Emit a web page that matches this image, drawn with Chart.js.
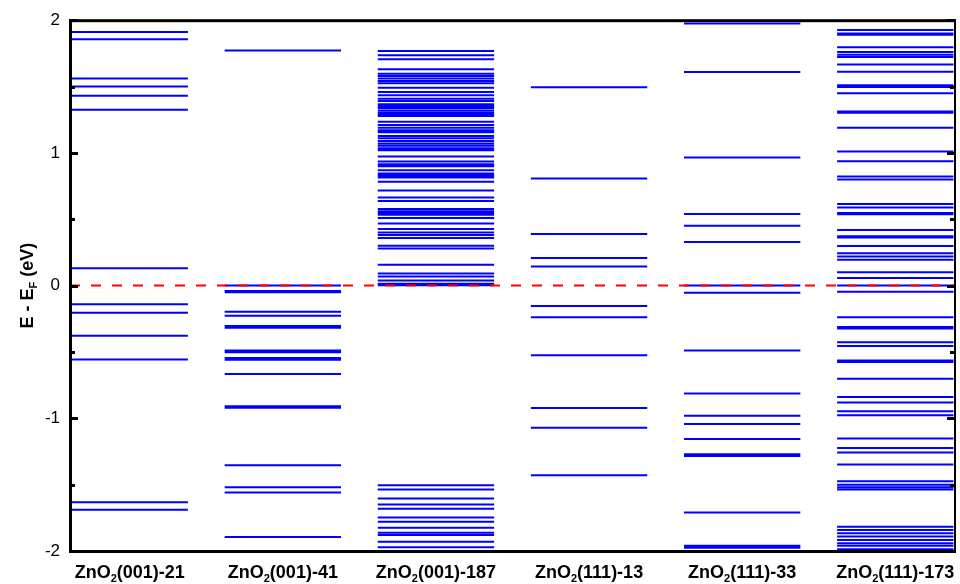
<!DOCTYPE html>
<html>
<head>
<meta charset="utf-8">
<script src="https://cdn.jsdelivr.net/npm/chart.js@4.4.1/dist/chart.umd.min.js"></script>
<style>
  html, body { margin: 0; padding: 0; background: #fff; }
  canvas { display: block; }
</style>
</head>
<body>
<canvas id="chart" width="960" height="584"></canvas>
<script>
// Structure names; "_2" marks a subscript digit
const categories = ['ZnO_2(001)-21', 'ZnO_2(001)-41', 'ZnO_2(001)-187', 'ZnO_2(111)-13', 'ZnO_2(111)-33', 'ZnO_2(111)-173'];

// Energy levels relative to the Fermi level (eV)
const levels001_21 = [1.912, 1.857, 1.561, 1.501, 1.431, 1.326, 0.130, -0.140, -0.205, -0.378, -0.556, -1.632, -1.689];

const levels001_41 = [1.772, 0.000, -0.040, -0.050, -0.198, -0.228, -0.305, -0.318, -0.490, -0.502, -0.545, -0.558,
  -0.667, -0.910, -0.920, -1.353, -1.519, -1.559, -1.895];

const levels001_187 = [1.767, 1.735, 1.705, 1.630, 1.596, 1.579, 1.560, 1.541, 1.524, 1.491, 1.459, 1.434, 1.408, 1.391,
  1.366, 1.351, 1.338, 1.320, 1.302, 1.290, 1.278, 1.235, 1.210, 1.190, 1.170, 1.155, 1.128, 1.110, 1.090, 1.070,
  1.053, 1.035, 1.020, 0.972, 0.935, 0.915, 0.900, 0.870, 0.844, 0.830, 0.815, 0.782, 0.717, 0.664, 0.637, 0.577,
  0.560, 0.545, 0.534, 0.509, 0.468, 0.426, 0.400, 0.381, 0.359, 0.300, 0.280, 0.158, 0.092, 0.068, 0.038, 0.013,
  0.002, -1.504, -1.536, -1.604, -1.649, -1.682, -1.747, -1.780, -1.825, -1.862, -1.880, -1.930, -1.972];

const levels111_13 = [1.494, 0.807, 0.388, 0.208, 0.144, -0.153, -0.239, -0.525, -0.922, -1.071, -1.429];

const levels111_33 = [1.975, 1.609, 0.965, 0.539, 0.451, 0.329, 0.000, -0.053, -0.489, -0.814, -0.980, -1.043,
  -1.156, -1.270, -1.285, -1.709, -1.960, -1.975];

const levels111_173 = [1.927, 1.900, 1.890, 1.797, 1.760, 1.740, 1.722, 1.667, 1.611, 1.510, 1.497, 1.449, 1.312,
  1.302, 1.190, 1.010, 0.937, 0.822, 0.800, 0.614, 0.589, 0.548, 0.538, 0.419, 0.372, 0.362, 0.298, 0.243, 0.220,
  0.195, 0.100, 0.058, 0.000, -0.047, -0.238, -0.312, -0.324, -0.426, -0.456, -0.564, -0.575, -0.702, -0.840, -0.880,
  -0.947, -0.977, -1.153, -1.223, -1.258, -1.348, -1.474, -1.500, -1.520, -1.536, -1.817, -1.842, -1.867, -1.890,
  -1.917, -1.942, -1.960, -1.987];

const allLevels = [levels001_21, levels001_41, levels001_187, levels111_13, levels111_33, levels111_173];

// Y axis ticks
const yTicks = [-2, -1, 0, 1, 2];
const yMinorTicks = [-1.5, -0.5, 0.5, 1.5];
const fermiLevel = 0;

const FONT = "'Liberation Sans', Arial, Helvetica, sans-serif";
const X_MIN = -0.39, X_MAX = 5.39, HALF = 0.38;

// One dataset per structure: each level is a short horizontal segment, separated by gaps
const levelSets = allLevels.map((lv, i) => ({
  label: categories[i],
  data: lv.flatMap(e => [{ x: i - HALF, y: e }, { x: i + HALF, y: e }, { x: i, y: null }]),
  showLine: true,
  spanGaps: false,
  borderColor: '#0000FF',
  borderWidth: 2,
  pointRadius: 0,
  order: 2
}));

const fermiSet = {
  label: 'EF',
  data: [{ x: X_MIN, y: fermiLevel }, { x: X_MAX, y: fermiLevel }],
  showLine: true,
  borderColor: '#FF0000',
  borderWidth: 2,
  borderDash: [10, 11],
  pointRadius: 0,
  order: 1
};

// Draws text where "_c" renders c as a subscript
function drawRich(ctx, text, x, y, size, align) {
  const parts = [];
  for (let i = 0; i < text.length; i++) {
    if (text[i] === '_' && i + 1 < text.length) { parts.push({ t: text[i + 1], sub: true }); i++; }
    else {
      if (parts.length && !parts[parts.length - 1].sub) parts[parts.length - 1].t += text[i];
      else parts.push({ t: text[i], sub: false });
    }
  }
  const big = 'bold ' + size + 'px ' + FONT;
  const small = 'bold ' + Math.round(size * 0.6) + 'px ' + FONT;
  let w = 0;
  parts.forEach(p => { ctx.font = p.sub ? small : big; p.w = ctx.measureText(p.t).width; w += p.w; });
  let cx = align === 'center' ? x - w / 2 : x;
  ctx.textAlign = 'left';
  ctx.textBaseline = 'alphabetic';
  parts.forEach(p => {
    ctx.font = p.sub ? small : big;
    ctx.fillText(p.t, cx, p.sub ? y + size * 0.22 : y);
    cx += p.w;
  });
}

const framePlugin = {
  id: 'frame',
  afterDatasetsDraw(chart) {
    const { ctx, chartArea: a, scales: { x, y } } = chart;
    ctx.save();
    ctx.fillStyle = '#000';
    // Inward tick marks on the left and right axes
    yTicks.forEach(v => {
      const py = Math.round(y.getPixelForValue(v));
      ctx.fillRect(a.left, py - 1, 8, 3);
      ctx.fillRect(a.right - 8, py - 1, 8, 3);
    });
    yMinorTicks.forEach(v => {
      const py = Math.round(y.getPixelForValue(v));
      ctx.fillRect(a.left, py - 1, 5, 3);
      ctx.fillRect(a.right - 5, py - 1, 5, 3);
    });
    // Frame
    ctx.fillStyle = '#000';
    ctx.fillRect(a.left - 1, a.top - 1, a.right - a.left + 2, 3);
    ctx.fillRect(a.left - 1, a.bottom - 1, a.right - a.left + 2, 3);
    ctx.fillRect(a.left - 1, a.top - 1, 3, a.bottom - a.top + 2);
    ctx.fillRect(a.right - 1, a.top - 1, 2, a.bottom - a.top + 2);

    // Structure labels under each column
    ctx.fillStyle = '#000';
    categories.forEach((c, i) => {
      drawRich(ctx, c, x.getPixelForValue(i), a.bottom + 27, 18, 'center');
    });

    // Y axis title, rotated
    ctx.translate(33, (a.top + a.bottom) / 2);
    ctx.rotate(-Math.PI / 2);
    drawRich(ctx, 'E - E_F (eV)', 0, 0, 18, 'center');
    ctx.restore();
  }
};

new Chart(document.getElementById('chart'), {
  type: 'scatter',
  data: { datasets: [fermiSet, ...levelSets] },
  options: {
    responsive: false,
    animation: false,
    events: [],
    layout: { padding: { top: 20, right: 5, left: 0, bottom: 0 } },
    plugins: { legend: { display: false }, tooltip: { enabled: false }, title: { display: false } },
    scales: {
      x: {
        type: 'linear',
        min: X_MIN,
        max: X_MAX,
        grid: { display: false, drawTicks: false },
        border: { display: false },
        ticks: { display: false },
        afterFit: s => { s.height = 33; }
      },
      y: {
        type: 'linear',
        min: -2,
        max: 2,
        afterBuildTicks: s => { s.ticks = yTicks.map(v => ({ value: v })); },
        grid: { display: false, drawTicks: false },
        border: { display: false },
        ticks: {
          color: '#000',
          padding: 10,
          font: { family: FONT, size: 17 },
          callback: v => String(v)
        },
        afterFit: s => { s.width = 70; }
      }
    }
  },
  plugins: [framePlugin]
});
</script>
</body>
</html>
